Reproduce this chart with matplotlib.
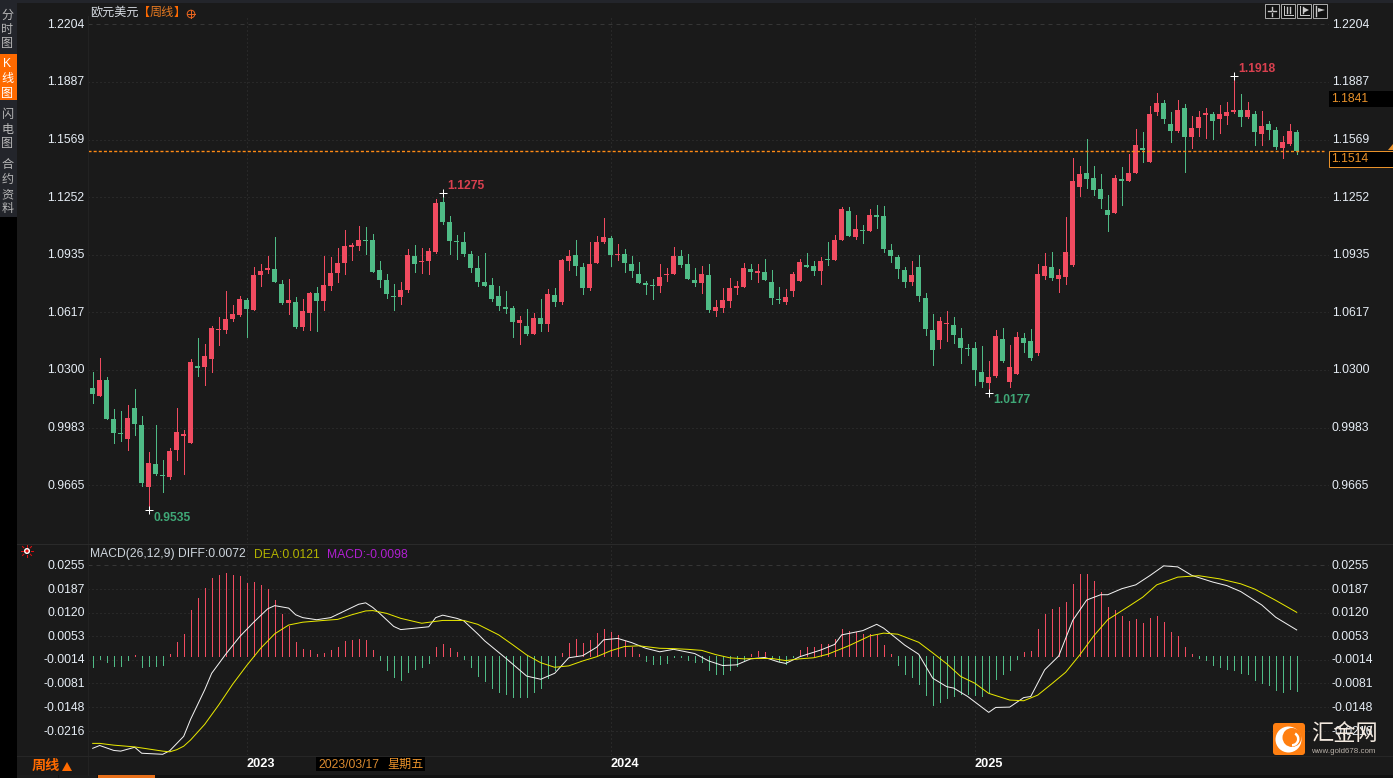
import matplotlib
matplotlib.use('Agg')
import matplotlib.pyplot as plt
from matplotlib.patches import Rectangle, FancyBboxPatch, Wedge, Circle, Polygon
from matplotlib.transforms import ScaledTranslation

plt.rcParams['font.family'] = ['Liberation Sans', 'Noto Sans CJK SC', 'DejaVu Sans']

# weekly candles, EUR/USD
OPEN = [1.0200, 1.0159, 1.0244, 1.0029, .9952, .9919, 1.0090, .9996, .9654, .9781,
        .9720, .9709, .9858, .9935, .9897, 1.0321, 1.0315, 1.0360, 1.0519, 1.0519,
        1.0580, 1.0602, 1.0685, 1.0630, 1.0822, 1.0850, 1.0856, 1.0773, 1.0668, 1.0674,
        1.0536, 1.0613, 1.0723, 1.0679, 1.0762, 1.0833, 1.0889, 1.0977, 1.0982, 1.1015,
        1.1015, 1.0850, 1.0795, 1.0707, 1.0701, 1.0740, 1.0927, 1.0894, 1.0899, 1.0949,
        1.1225, 1.1114, 1.1010, 1.1004, 1.0938, 1.0861, 1.0784, 1.0767, 1.0707, 1.0646,
        1.0640, 1.0558, 1.0541, 1.0497, 1.0585, 1.0552, 1.0712, 1.0674, 1.0899, 1.0933,
        1.0866, 1.0751, 1.0888, 1.1004, 1.1026, 1.0933, 1.0938, 1.0883, 1.0828, 1.0778,
        1.0767, 1.0762, 1.0822, 1.0828, 1.0927, 1.0883, 1.0795, 1.0778, 1.0823, 1.0624,
        1.0641, 1.0679, 1.0751, 1.0756, 1.0856, 1.0834, 1.0839, 1.0784, 1.0690, 1.0674,
        1.0734, 1.0790, 1.0878, 1.0872, 1.0845, 1.0911, 1.0905, 1.1015, 1.1175, 1.1032,
        1.1071, 1.1065, 1.1153, 1.1148, 1.0960, 1.0922, 1.0850, 1.0784, 1.0867, 1.0696,
        1.0519, 1.0464, 1.0553, 1.0547, 1.0476, 1.0421, 1.0421, 1.0288, 1.0228, 1.0266,
        1.0470, 1.0233, 1.0277, 1.0476, 1.0459, 1.0393, 1.0817, 1.0867, 1.0801, 1.0812,
        1.0878, 1.1308, 1.1385, 1.1357, 1.1297, 1.1181, 1.1165, 1.1352, 1.1341, 1.1385,
        1.1522, 1.1445, 1.1721, 1.1770, 1.1655, 1.1616, 1.1743, 1.1583, 1.1633, 1.1704,
        1.1710, 1.1682, 1.1699, 1.1721, 1.1732, 1.1693, 1.1710, 1.1600, 1.1655, 1.1622,
        1.1522, 1.1544, 1.1611]
CLOSE = [1.0167, 1.0244, 1.0029, .9952, .9946, 1.0034, 1.0001, .9676, .9786, .9726,
         .9715, .9853, .9957, .9946, 1.0343, 1.0310, 1.0376, 1.0530, 1.0525, 1.0580,
         1.0607, 1.0690, 1.0635, 1.0822, 1.0844, 1.0861, 1.0784, 1.0668, 1.0685, 1.0536,
         1.0624, 1.0723, 1.0679, 1.0767, 1.0833, 1.0889, 1.0982, 1.0988, 1.1015, 1.1010,
         1.0839, 1.0795, 1.0718, 1.0701, 1.0740, 1.0933, 1.0883, 1.0899, 1.0955, 1.1219,
         1.1114, 1.1010, 1.1004, 1.0938, 1.0861, 1.0784, 1.0762, 1.0690, 1.0652, 1.0635,
         1.0563, 1.0574, 1.0497, 1.0585, 1.0552, 1.0718, 1.0674, 1.0905, 1.0927, 1.0872,
         1.0751, 1.0883, 1.1004, 1.1032, 1.0933, 1.0938, 1.0888, 1.0844, 1.0778, 1.0767,
         1.0762, 1.0811, 1.0828, 1.0927, 1.0878, 1.0801, 1.0778, 1.0828, 1.0630, 1.0646,
         1.0685, 1.0751, 1.0762, 1.0861, 1.0839, 1.0845, 1.0795, 1.0696, 1.0685, 1.0701,
         1.0828, 1.0894, 1.0867, 1.0845, 1.0900, 1.0905, 1.1015, 1.1186, 1.1037, 1.1076,
         1.1065, 1.1153, 1.1142, 1.0966, 1.0927, 1.0856, 1.0784, 1.0823, 1.0707, 1.0525,
         1.0409, 1.0569, 1.0558, 1.0492, 1.0421, 1.0415, 1.0299, 1.0233, 1.0261, 1.0487,
         1.0349, 1.0316, 1.0481, 1.0448, 1.0366, 1.0828, 1.0873, 1.0806, 1.0823, 1.0950,
         1.1341, 1.1380, 1.1352, 1.1291, 1.1242, 1.1154, 1.1357, 1.1341, 1.1385, 1.1539,
         1.1511, 1.1710, 1.1770, 1.1682, 1.1616, 1.1732, 1.1583, 1.1633, 1.1693, 1.1715,
         1.1671, 1.1710, 1.1721, 1.1732, 1.1693, 1.1732, 1.1611, 1.1644, 1.1622, 1.1528,
         1.1555, 1.1616, 1.1506]
HIGH = [1.0288, 1.0365, 1.0260, 1.0084, 1.0073, 1.0106, 1.0194, 1.0045, .9847, .9996,
        .9803, .9869, 1.0090, .9968, 1.0360, 1.0475, 1.0442, 1.0541, 1.0591, 1.0734,
        1.0657, 1.0707, 1.0696, 1.0867, 1.0883, 1.0927, 1.1032, 1.0795, 1.0800, 1.0701,
        1.0690, 1.0729, 1.0756, 1.0927, 1.0922, 1.0971, 1.1070, 1.0999, 1.1092, 1.1087,
        1.1048, 1.0899, 1.0828, 1.0773, 1.0784, 1.0966, 1.0988, 1.0971, 1.0971, 1.1241,
        1.1275, 1.1147, 1.1043, 1.1059, 1.0955, 1.0927, 1.0944, 1.0806, 1.0762, 1.0734,
        1.0651, 1.0596, 1.0635, 1.0613, 1.0690, 1.0745, 1.0751, 1.0911, 1.0960, 1.1015,
        1.0888, 1.1004, 1.1037, 1.1136, 1.1037, 1.0993, 1.0966, 1.0927, 1.0894, 1.0789,
        1.0800, 1.0883, 1.0861, 1.0977, 1.0960, 1.0938, 1.0861, 1.0872, 1.0883, 1.0685,
        1.0751, 1.0806, 1.0790, 1.0889, 1.0883, 1.0883, 1.0911, 1.0850, 1.0756, 1.0745,
        1.0839, 1.0911, 1.0944, 1.0900, 1.0922, 1.1004, 1.1043, 1.1197, 1.1197, 1.1153,
        1.1098, 1.1186, 1.1208, 1.1203, 1.0993, 1.0933, 1.0867, 1.0900, 1.0933, 1.0723,
        1.0608, 1.0591, 1.0624, 1.0591, 1.0531, 1.0443, 1.0454, 1.0432, 1.0349, 1.0520,
        1.0531, 1.0437, 1.0509, 1.0503, 1.0525, 1.0884, 1.0944, 1.0950, 1.0856, 1.1143,
        1.1468, 1.1424, 1.1572, 1.1424, 1.1380, 1.1264, 1.1374, 1.1418, 1.1490, 1.1627,
        1.1611, 1.1754, 1.1825, 1.1787, 1.1721, 1.1787, 1.1765, 1.1699, 1.1726, 1.1743,
        1.1721, 1.1759, 1.1776, 1.1918, 1.1820, 1.1776, 1.1726, 1.1726, 1.1671, 1.1638,
        1.1588, 1.1655, 1.1622]
LOW = [1.0117, 1.0156, 1.0029, .9897, .9908, .9858, .9941, .9660, .9530, .9720,
       .9627, .9698, .9803, .9726, .9897, 1.0266, 1.0216, 1.0288, 1.0437, 1.0503,
       1.0569, 1.0596, 1.0481, 1.0630, 1.0762, 1.0833, 1.0784, 1.0663, 1.0607, 1.0530,
       1.0519, 1.0519, 1.0514, 1.0630, 1.0740, 1.0784, 1.0828, 1.0905, 1.0960, 1.0938,
       1.0839, 1.0756, 1.0696, 1.0629, 1.0662, 1.0729, 1.0839, 1.0833, 1.0828, 1.0942,
       1.1103, 1.0938, 1.0911, 1.0927, 1.0839, 1.0762, 1.0762, 1.0679, 1.0629, 1.0613,
       1.0481, 1.0442, 1.0492, 1.0497, 1.0514, 1.0514, 1.0652, 1.0662, 1.0850, 1.0822,
       1.0718, 1.0740, 1.0888, 1.0999, 1.0872, 1.0905, 1.0839, 1.0811, 1.0778, 1.0718,
       1.0690, 1.0729, 1.0789, 1.0828, 1.0867, 1.0801, 1.0762, 1.0723, 1.0619, 1.0597,
       1.0619, 1.0646, 1.0718, 1.0756, 1.0801, 1.0784, 1.0795, 1.0663, 1.0668, 1.0663,
       1.0707, 1.0790, 1.0867, 1.0823, 1.0773, 1.0878, 1.0905, 1.1015, 1.1037, 1.1021,
       1.0999, 1.1065, 1.1082, 1.0949, 1.0894, 1.0806, 1.0756, 1.0767, 1.0679, 1.0492,
       1.0327, 1.0420, 1.0459, 1.0448, 1.0338, 1.0382, 1.0217, 1.0206, 1.0175, 1.0261,
       1.0343, 1.0206, 1.0277, 1.0399, 1.0354, 1.0382, 1.0801, 1.0795, 1.0729, 1.0773,
       1.0873, 1.1258, 1.1302, 1.1264, 1.1192, 1.1065, 1.1165, 1.1209, 1.1341, 1.1385,
       1.1445, 1.1445, 1.1704, 1.1660, 1.1555, 1.1611, 1.1390, 1.1522, 1.1588, 1.1577,
       1.1572, 1.1605, 1.1655, 1.1715, 1.1644, 1.1688, 1.1539, 1.1539, 1.1572, 1.1517,
       1.1467, 1.1539, 1.1489]

MACD_HIST = [-.0033, -.0011, -.0020, -.0030, -.0030, -.0014, .0000, -.0034, -.0031, -.0031,
             -.0028, .0003, .0037, .0060, .0128, .0162, .0190, .0219, .0227, .0233,
             .0227, .0225, .0205, .0207, .0199, .0188, .0156, .0117, .0082, .0037,
             .0017, .0014, .0003, .0006, .0014, .0023, .0040, .0043, .0046, .0043,
             .0014, -.0014, -.0043, -.0062, -.0071, -.0048, -.0040, -.0034, -.0023, .0023,
             .0031, .0020, .0009, -.0011, -.0034, -.0060,
             -.0074, -.0094, -.0105, -.0111, -.0119, -.0119, -.0119, -.0105, -.0094, -.0065, -.0043,
             .0006, .0034, .0046, .0034, .0043, .0063, .0074, .0066, .0057, .0040, .0023, .0003,
             -.0017, -.0025, -.0025, -.0023, -.0007, -.0006, -.0014, -.0020, -.0020, -.0043,
             -.0054, -.0054, -.0043, -.0031, -.0014, .0003, .0011, .0009,
             -.0008, -.0017, -.0025, -.0006,
             .0014, .0023, .0023, .0031, .0031, .0046, .0074, .0068, .0065, .0060, .0060, .0057, .0029, .0003,
             -.0028, -.0054, -.0062, -.0082, -.0114, -.0142, -.0133, -.0122,
             -.0116, -.0111, -.0111, -.0113, -.0116, -.0108, -.0068, -.0054, -.0042, -.0011,
             .0009, .0012, .0074, .0117, .0131, .0137, .0151, .0202, .0230, .0230,
             .0210, .0179, .0137, .0128, .0111, .0097, .0102, .0091, .0105, .0111,
             .0094, .0066, .0054, .0023, .0004,
             -.0008, -.0014, -.0028, -.0034, -.0039, -.0042, -.0051, -.0054, -.0071, -.0079,
             -.0085, -.0099, -.0105, -.0096, -.0102]
DIFF_WEEK = [0, 1, 3, 4, 6, 7, 10, 11, 13, 14, 16, 17, 19, 21, 23, 25, 26, 28, 29, 30,
             32, 34, 36, 38, 39, 40, 41, 43, 44, 48, 49, 50, 52, 53, 55,
             56, 59, 62, 64, 66, 68, 70, 72, 73, 75, 77, 79, 81, 83, 86, 88, 90, 92, 94, 96,
             98, 99, 101, 104, 106, 107, 110, 112, 113, 116, 118, 120, 122,
             123, 125, 128, 129, 131, 133, 134, 136, 138, 140, 142, 144, 145, 147, 149, 151,
             153, 155, 157, 160, 162, 164, 167, 169, 172]
DIFF = [-.0265, -.0257, -.0271, -.0273, -.0262, -.0279, -.0282, -.0272, -.0231, -.0182,
        -.0099, -.0052, .0002, .0052, .0093, .0131, .0140, .0133, .0114, .0106,
        .0100, .0106, .0125, .0144, .0148, .0135, .0118, .0081, .0072, .0080,
        .0106, .0113, .0104, .0097, .0060,
        .0040, -.0009, -.0060, -.0069, -.0052, -.0008, -.0002, .0022, .0043, .0047,
        .0035, .0019, .0009, .0016, .0004, -.0017, -.0030, -.0028, -.0011, -.0007,
        -.0020, -.0024, -.0005, .0014, .0030, .0057, .0069, .0087, .0076, .0028,
        .0002, -.0066, -.0090,
        -.0094, -.0118, -.0163, -.0149, -.0148, -.0121, -.0118, -.0042, -.0003, .0098,
        .0156, .0171, .0171, .0188, .0199, .0225, .0253, .0250, .0226, .0207,
        .0197, .0180, .0142, .0107, .0071]
DEA_WEEK = [0, 1, 3, 6, 8, 10, 11, 12, 13, 14, 16, 18, 20, 22, 24, 26, 28, 30, 33, 35,
            37, 39, 40, 42, 44, 47, 50, 53, 55,
            56, 58, 60, 62, 64, 66, 68, 70, 72, 74, 76, 78, 81, 83, 85, 87, 89, 91, 93, 95,
            97, 99, 101, 103, 105, 108, 111, 113, 115, 118, 120, 122,
            124, 126, 128, 131, 133, 135, 137, 139, 141, 143, 145, 148, 150, 152, 155, 158,
            161, 164, 166, 169, 172]
DEA = [-.0251, -.0251, -.0256, -.0261, -.0267, -.0273, -.0275, -.0269, -.0259, -.0241,
       -.0197, -.0142, -.0083, -.0030, .0019, .0060, .0085, .0093, .0098, .0101,
       .0114, .0125, .0126, .0118, .0104, .0090, .0098, .0098, .0087,
       .0077, .0057, .0029, .0000, -.0022, -.0035, -.0031, -.0017, -.0005, .0012,
       .0024, .0026, .0019, .0018, .0016, .0013, .0001, -.0008, -.0011, -.0010,
       -.0010, -.0016, -.0011, -.0008, .0002, .0026, .0054, .0062, .0059, .0036,
       .0006, -.0025,
       -.0061, -.0080, -.0109, -.0128, -.0130, -.0114, -.0082, -.0049, .0000, .0054,
       .0100, .0138, .0164, .0199, .0221, .0225, .0216, .0202, .0187, .0155, .0121]

PRICE_TICKS = [1.2204, 1.1887, 1.1569, 1.1252, 1.0935, 1.0617, 1.0300, 0.9983, 0.9665]
MACD_TICKS = [0.0255, 0.0187, 0.0120, 0.0053, -0.0014, -0.0081, -0.0148, -0.0216]
YEAR_WEEKS = [22, 74, 126]
YEAR_LABELS = ['2023', '2024', '2025']

BG = '#1a1a1a'
RED = '#f04b60'
GREEN = '#4fbb86'
GRID = '#363636'
LABEL = '#e6edf5'
ORANGE = '#ff6a00'
W, H = 1393, 778
PX = 0.72  # 1 pixel in points at dpi=100


def panel(top, bottom):
    a = fig.add_axes([88 / W, 1 - bottom / H, (1328.5 - 88) / W, (bottom - top) / H])
    a.set_facecolor(BG)
    a.set_xlim(-0.67, 176.54)
    for s in a.spines.values():
        s.set_visible(False)
    a.set_xticks(YEAR_WEEKS)
    a.grid(True, axis='both', color=GRID, linewidth=PX, linestyle=(0, (1, 3)))
    a.set_axisbelow(True)
    a.tick_params(axis='both', length=0, labelcolor=LABEL, labelsize=8.7)
    a.tick_params(axis='y', which='both', labelleft=True, labelright=True, pad=2.5)
    return a


def lift_labels(a):
    # tick labels sit one pixel above their grid line in the reference
    up = ScaledTranslation(0, 1 / 100, fig.dpi_scale_trans)
    for t in a.yaxis.get_major_ticks():
        t.label1.set_transform(t.label1.get_transform() + up)
        t.label2.set_transform(t.label2.get_transform() + up)


fig = plt.figure(figsize=(W / 100, H / 100), dpi=100, facecolor=BG)

# price panel
ax = panel(16, 543)
ax.set_ylim(0.9347, 1.2250)
ax.set_yticks(PRICE_TICKS)
ax.set_yticklabels(['%.4f' % t for t in PRICE_TICKS])
ax.tick_params(axis='x', labelbottom=False)
ax.get_ygridlines()[0].set_linestyle((0, (4, 4)))
lift_labels(ax)

weeks = list(range(len(CLOSE)))
colors = [RED if c >= o else GREEN for o, c in zip(OPEN, CLOSE)]
ax.vlines(weeks, LOW, HIGH, colors=colors, linewidth=PX, antialiased=False, zorder=3)
ax.bar(weeks, [abs(c - o) for o, c in zip(OPEN, CLOSE)], bottom=[min(o, c) for o, c in zip(OPEN, CLOSE)],
       width=5.4 / 7, color=colors, linewidth=0, antialiased=False, zorder=4)

# last price line
ax.plot([-0.67, 175.9], [1.1508, 1.1508], color='#ff8a14', linewidth=1.0, linestyle=(0, (2.2, 1.5)), zorder=5)

# high / low marks
for wk, val, txt, col, dy in [(8, LOW[8], '0.9535', '#3fa877', -8), (50, HIGH[50], '1.1275', '#d9404f', 7),
                              (128, LOW[128], '1.0177', '#3fa877', -7), (163, HIGH[163], '1.1918', '#d9404f', 7)]:
    ax.plot([wk], [val], marker='+', color='white', markersize=5.5, markeredgewidth=PX, zorder=6)
    ax.annotate(txt, (wk, val), xytext=(4.5, dy), textcoords='offset pixels', color=col,
                fontsize=8.7, fontweight='bold', va='center', ha='left', zorder=6)

# MACD panel
ax2 = panel(544, 755)
ax2.set_ylim(-0.0284, 0.0315)
ax2.set_yticks(MACD_TICKS)
ax2.set_yticklabels(['%.4f' % t for t in MACD_TICKS])
ax2.get_ygridlines()[0].set_linestyle((0, (4, 4)))
ax2.set_xticklabels(YEAR_LABELS, fontweight='bold', color='white', fontsize=9.2, ha='left')
ax2.tick_params(axis='x', pad=2)
lift_labels(ax2)

hist_base = -0.0004
hist_colors = [RED if v > hist_base else GREEN for v in MACD_HIST]
ax2.vlines(range(len(MACD_HIST)), hist_base, MACD_HIST, colors=hist_colors, linewidth=PX, antialiased=False, zorder=3)
ax2.plot(DIFF_WEEK, DIFF, color='#f2f2f2', linewidth=PX, zorder=4)
ax2.plot(DEA_WEEK, DEA, color='#e8e800', linewidth=PX, zorder=4)

# everything around the panels is drawn in pixel coordinates on an overlay
ov = fig.add_axes([0, 0, 1, 1], facecolor='none')
ov.set_xlim(0, W)
ov.set_ylim(H, 0)
ov.axis('off')


def box(x0, y0, x1, y1, **kw):
    kw.setdefault('linewidth', 0)
    ov.add_patch(Rectangle((x0, y0), x1 - x0, y1 - y0, **kw))


def label(x, y, s, color=LABEL, size=8.7, ha='left', **kw):
    ov.text(x, y, s, color=color, fontsize=size, ha=ha, va='center', **kw)


# left side bar and frame
box(0, 0, W, 3, facecolor='#23252b')
box(0, 217, 17, H, facecolor='black')
box(0, 3, 17, 217, facecolor='#23252b')
box(0, 54, 17, 100, facecolor='#ff6a00')
for ys, chars, col in [((16, 30, 44), '分时图', '#b8b8b8'), ((64, 79, 94), 'K线图', 'white'),
                       ((115, 130, 144), '闪电图', '#b8b8b8'), ((165, 180, 195, 209), '合约资料', '#b8b8b8')]:
    for y, ch in zip(ys, chars):
        label(7.5, y, ch, color=col, ha='center')
ov.plot([88, 88], [16, 775], color='#222222', linewidth=PX)
ov.plot([17, W], [543.5, 543.5], color='#2a2a2a', linewidth=PX)
ov.plot([17, W], [755.5, 755.5], color='#262626', linewidth=PX)

# title row
label(90, 13, '欧元美元', color='#d8dde4')
label(138, 13, '【', color='#ff6a00')
label(150, 13, '周线', color='#e87a20')
label(174, 13, '】', color='#ff6a00')
ov.add_patch(Circle((191, 14), 3.8, fill=False, edgecolor='#e8641e', linewidth=PX))
ov.plot([187, 195], [14, 14], color='#e8641e', linewidth=PX)
ov.plot([191, 191], [10, 18], color='#e8641e', linewidth=PX)

# toolbar buttons
for x0 in [1265, 1281, 1297, 1313]:
    box(x0, 4, x0 + 14, 18, facecolor='#111111', edgecolor='#a8a8a8', linewidth=PX)
ov.plot([1268, 1271, None, 1273, 1276, None, 1272, 1272, None, 1272, 1272], [11, 11, None, 11, 11, None, 6.5, 9.5, None, 12.5, 15.5],
        color='#c8c8c8', linewidth=1.0)
for x0 in [1281, 1297]:
    ov.plot([x0 + 3, x0 + 3, x0 + 12], [6, 15, 15], color='#c8c8c8', linewidth=PX)
    ov.plot([x0 + 6, x0 + 6], [7, 13], color='#c8c8c8', linewidth=1.0)
ov.plot([1290, 1290], [7, 13], color='#c8c8c8', linewidth=1.0)
ov.add_patch(Polygon([[1303, 7], [1303, 13], [1309, 10]], facecolor='#c8c8c8', linewidth=0))
ov.plot([1316, 1316], [6, 16], color='#c8c8c8', linewidth=1.0)
ov.add_patch(Polygon([[1318, 8], [1318, 12], [1325, 10]], facecolor='#c8c8c8', linewidth=0))

# price boxes on the right
box(1329, 91, W, 107, facecolor='black')
label(1331, 98.5, '1.1841', color='#e8912a')
box(1328.5, 150.5, W + 2, 166.5, facecolor='black', edgecolor='#e8912a', linewidth=PX)
label(1331, 158.5, '1.1514', color='#e8912a')
ov.add_patch(Polygon([[1388, 150], [1393, 150], [1393, 144]], facecolor='#e8912a', linewidth=0))

# MACD legend
for dx, dy in [(-6, 0), (6, 0), (0, -6), (0, 6), (-4.5, -4.5), (4.5, -4.5), (-4.5, 4.5), (4.5, 4.5)]:
    ov.plot([27 + dx * 0.7, 27 + dx], [551 + dy * 0.7, 551 + dy], color='#e01010', linewidth=PX)
ov.add_patch(Circle((27, 551), 3, facecolor='white', linewidth=0))
ov.add_patch(Circle((27, 551), 1.6, facecolor='#e01010', linewidth=0))
label(90, 554.5, 'MACD(26,12,9) DIFF:0.0072', color='#cfd6de')
label(254, 554.5, 'DEA:0.0121', color='#b3b300')
label(327, 554.5, 'MACD:-0.0098', color='#b01fd0')

# bottom band
label(32, 766, '周线', color=ORANGE, size=10.2, fontweight='bold')
ov.add_patch(Polygon([[62, 771], [72, 771], [67, 762]], facecolor=ORANGE, linewidth=0))
box(316, 755.5, 425, 771, facecolor='black')
label(318, 764.5, '2023/03/17', color='#d98a30')
label(387, 764.5, '星期五', color='#e8912a')
box(17, 775, W, H, facecolor='#111111')
box(98, 775, 155, H, facecolor='#e8701a')
box(17, 775, 58, H, facecolor='#1c1c1c')
box(59, 775, 97, H, facecolor='#1c1c1c')

# logo
ov.add_patch(FancyBboxPatch((1273, 723), 32, 32, boxstyle='round,pad=0,rounding_size=3', facecolor='#ff7f11', linewidth=0,
                            zorder=8))
ov.add_patch(Circle((1288.5, 739.5), 13, facecolor='white', linewidth=0, zorder=9))
ov.add_patch(Circle((1292, 737.5), 9.5, facecolor='#ff7f11', linewidth=0, zorder=10))
ov.add_patch(Wedge((1292, 739), 7.5, 300, 90, width=2.5, facecolor='white', linewidth=0, zorder=11))
ov.text(1311, 734, '汇金网', color='#f3e9df', fontsize=16, ha='left', va='center', zorder=12)
ov.text(1311.5, 751.5, 'www.gold678.com', color='#b8b0a8', fontsize=5.7, ha='left', va='center', zorder=12)

fig.savefig('out.png', dpi=100, facecolor=BG)
plt.close(fig)
